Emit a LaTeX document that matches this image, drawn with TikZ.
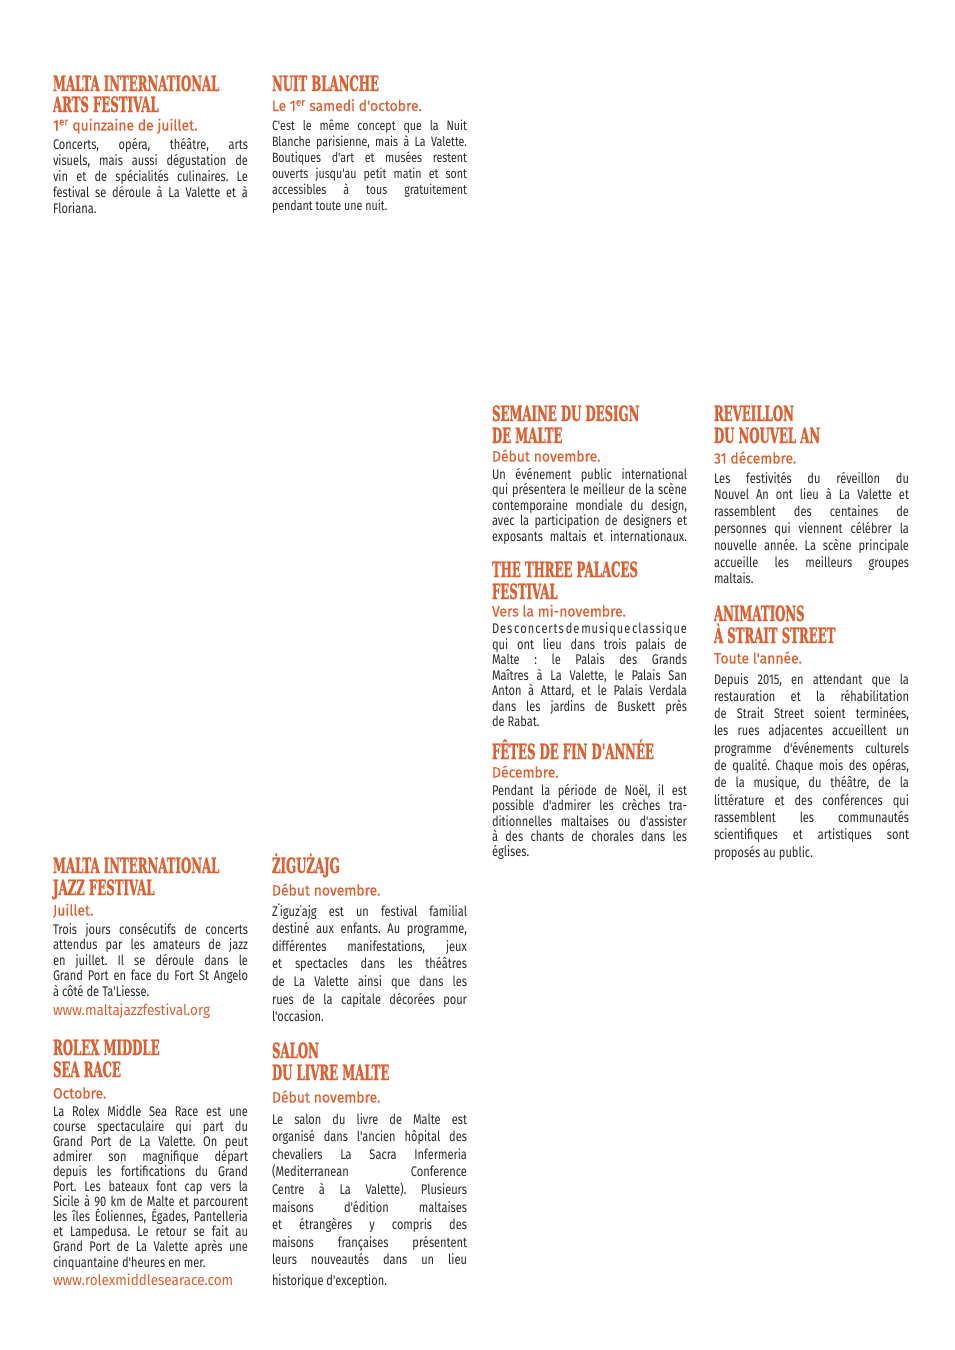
\documentclass[tikz,border=0pt]{standalone}
\usepackage{fontspec}
\newfontfamily\headf[FakeStretch=0.56,FakeBold=1]{DejaVu Serif}
\newfontfamily\bodyf[FakeStretch=0.79]{Fira Sans}
\newfontfamily\datef[FakeStretch=0.93,FakeBold=0.3]{Fira Sans}
\newfontfamily\urlf[FakeStretch=0.9]{Fira Sans}
\definecolor{evorange}{HTML}{DE5F30}
\definecolor{bodyc}{HTML}{2A2A2A}
\newcommand\xJ[1]{\hbox to 195pt{#1}}
\newcommand\xL[1]{\hbox{#1}}
\newcommand\xB[2]{\vtop{\frenchspacing\spaceskip=.22em plus 1em minus .05em\baselineskip=#1\lineskiplimit=-\maxdimen\lineskip=0pt #2}}
\newcommand\hB[2]{\vtop{\baselineskip=#1\lineskiplimit=-\maxdimen\lineskip=0pt #2}}
\tikzset{
  base/.style={anchor=base west, inner sep=0pt, outer sep=0pt},
  head/.style={base, text=evorange, font={\headf\bfseries\fontsize{21pt}{21pt}\selectfont}},
  datel/.style={base, text=evorange, font={\datef\fontsize{15pt}{15pt}\selectfont}},
  urll/.style={base, text=evorange, font={\urlf\fontsize{15pt}{15pt}\selectfont}},
  bodyt/.style={base, text=bodyc, font={\bodyf\fontsize{14pt}{14pt}\selectfont}},
  bodys/.style={base, text=bodyc, font={\bodyf\fontsize{13.5pt}{13.5pt}\selectfont}},
}
\begin{document}
\begin{tikzpicture}[x=1pt,y=-1pt]
\useasboundingbox[fill=white] (0,0) rectangle (954,1350);

% ---- Column 1 top: Malta International Arts Festival
\node[head] (hA) at (53,91) {\hB{21pt}{\xL{MALTA INTERNATIONAL}\xL{ARTS FESTIVAL}}};
\node[datel] (dA) at (53,130.5) {1\textsuperscript{er} quinzaine de juillet.};
\node[bodyt] (bA) at (53,149) {\xB{16pt}{%
\xJ{Concerts, opéra, théâtre, arts}%
\xJ{visuels, mais aussi dégustation de}%
\xJ{vin et de spécialités culinaires. Le}%
\xJ{festival se déroule à La Valette et à}%
\xL{Floriana.}}};

% ---- Column 2 top: Nuit Blanche
\node[head] (hB) at (272,91) {NUIT BLANCHE};
\node[datel] (dB) at (272,111) {Le 1\textsuperscript{er} samedi d'octobre.};
\node[bodys] (bB) at (272,130) {\xB{16pt}{%
\xJ{C'est le même concept que la Nuit}%
\xJ{Blanche parisienne, mais à La Valette.}%
\xJ{Boutiques d'art et musées restent}%
\xJ{ouverts jusqu'au petit matin et sont}%
\xJ{accessibles à tous gratuitement}%
\xL{pendant toute une nuit.}}};

% ---- Column 3: Semaine du design
\node[head] (hC) at (492,421) {\hB{22pt}{\xL{SEMAINE DU DESIGN}\xL{DE MALTE}}};
\node[datel] (dC) at (492,461.5) {Début novembre.};
\node[bodyt] (bC) at (492,479) {\xB{15.5pt}{%
\xJ{Un événement public international}%
\xJ{qui présentera le meilleur de la scène}%
\xJ{contemporaine mondiale du design,}%
\xJ{avec la participation de designers et}%
\xJ{exposants maltais et internationaux.}}};

% ---- The three palaces festival
\node[head] (hD) at (492,577) {\hB{22pt}{\xL{THE THREE PALACES}\xL{FESTIVAL}}};
\node[datel] (dD) at (492,616.5) {Vers la mi-novembre.};
\node[bodyt] (bD) at (492,633.5) {\xB{15.5pt}{%
\xJ{D\hfil e\hfil s\hfil\hfil c\hfil o\hfil n\hfil c\hfil e\hfil r\hfil t\hfil s\hfil\hfil d\hfil e\hfil\hfil m\hfil u\hfil s\hfil i\hfil q\hfil u\hfil e\hfil\hfil c\hfil l\hfil a\hfil s\hfil s\hfil i\hfil q\hfil u\hfil e}%
\xJ{qui ont lieu dans trois palais de}%
\xJ{Malte : le Palais des Grands}%
\xJ{Maîtres à La Valette, le Palais San}%
\xJ{Anton à Attard, et le Palais Verdala}%
\xJ{dans les jardins de Buskett près}%
\xL{de Rabat.}}};

% ---- Fêtes de fin d'année
\node[head] (hE) at (492,759) {FÊTES DE FIN D'ANNÉE};
\node[datel] (dE) at (492,777.5) {Décembre.};
\node[bodyt] (bE) at (492,795.5) {\xB{15.3pt}{%
\xJ{Pendant la période de Noël, il est}%
\xJ{possible d'admirer les crèches tra-}%
\xJ{ditionnelles maltaises ou d'assister}%
\xJ{à des chants de chorales dans les}%
\xL{églises.}}};

% ---- Column 4: Réveillon
\node[head] (hF) at (714,421) {\hB{22pt}{\xL{REVEILLON}\xL{DU NOUVEL AN}}};
\node[datel] (dF) at (714,463.5) {31 décembre.};
\node[bodyt] (bF) at (714,483) {\xB{16.8pt}{%
\xJ{Les festivités du réveillon du}%
\xJ{Nouvel An ont lieu à La Valette et}%
\xJ{rassemblent des centaines de}%
\xJ{personnes qui viennent célébrer la}%
\xJ{nouvelle année. La scène principale}%
\xJ{accueille les meilleurs groupes}%
\xL{maltais.}}};

% ---- Animations à Strait Street
\node[head] (hG) at (714,621) {\hB{22pt}{\xL{ANIMATIONS}\xL{À STRAIT STREET}}};
\node[datel] (dG) at (714,663.5) {Toute l'année.};
\node[bodyt] (bG) at (714,684) {\xB{17.3pt}{%
\xJ{Depuis 2015, en attendant que la}%
\xJ{restauration et la réhabilitation}%
\xJ{de Strait Street soient terminées,}%
\xJ{les rues adjacentes accueillent un}%
\xJ{programme d'événements culturels}%
\xJ{de qualité. Chaque mois des opéras,}%
\xJ{de la musique, du théâtre, de la}%
\xJ{littérature et des conférences qui}%
\xJ{rassemblent les communautés}%
\xJ{scientifiques et artistiques sont}%
\xL{proposés au public.}}};

% ---- Column 1 bottom: Jazz festival
\node[head] (hH) at (53,873) {\hB{22pt}{\xL{MALTA INTERNATIONAL}\xL{JAZZ FESTIVAL}}};
\node[datel] (dH) at (53,915.5) {Juillet.};
\node[bodyt] (bH) at (53,934) {\xB{15.5pt}{%
\xJ{Trois jours consécutifs de concerts}%
\xJ{attendus par les amateurs de jazz}%
\xJ{en juillet. Il se déroule dans le}%
\xJ{Grand Port en face du Fort St Angelo}%
\xL{à côté de Ta'Liesse.}}};
\node[urll] (uH) at (53,1015) {www.maltajazzfestival.org};

% ---- Rolex Middle Sea Race
\node[head] (hI) at (53,1055) {\hB{22pt}{\xL{ROLEX MIDDLE}\xL{SEA RACE}}};
\node[datel] (dI) at (53,1098.5) {Octobre.};
\node[bodyt] (bI) at (53,1116) {\xB{15.1pt}{%
\xJ{La Rolex Middle Sea Race est une}%
\xJ{course spectaculaire qui part du}%
\xJ{Grand Port de La Valette. On peut}%
\xJ{admirer son magnifique départ}%
\xJ{depuis les fortifications du Grand}%
\xJ{Port. Les bateaux font cap vers la}%
\xJ{Sicile à 90 km de Malte et parcourent}%
\xJ{les îles Éoliennes, Égades, Pantelleria}%
\xJ{et Lampedusa. Le retour se fait au}%
\xJ{Grand Port de La Valette après une}%
\xL{cinquantaine d'heures en mer.}}};
\node[urll] (uI) at (53,1285) {www.rolexmiddlesearace.com};

% ---- Column 2 bottom: Żigużajg
\node[head] (hJ) at (272,873) {ŻIGUŻAJG};
\node[datel] (dJ) at (272,895.5) {Début novembre.};
\node[bodyt] (bJ) at (272,916) {\xB{17.6pt}{%
\xJ{Z˙iguz˙ajg est un festival familial}%
\xJ{destiné aux enfants. Au programme,}%
\xJ{différentes manifestations, jeux}%
\xJ{et spectacles dans les théâtres}%
\xJ{de La Valette ainsi que dans les}%
\xJ{rues de la capitale décorées pour}%
\xL{l'occasion.}}};

% ---- Salon du livre Malte
\node[head] (hK) at (272,1058) {\hB{22pt}{\xL{SALON}\xL{DU LIVRE MALTE}}};
\node[datel] (dK) at (272,1102.5) {Début novembre.};
\node[bodyt] (bK) at (272,1124) {\xB{17.6pt}{%
\xJ{Le salon du livre de Malte est}%
\xJ{organisé dans l'ancien hôpital des}%
\xJ{chevaliers La Sacra Infermeria}%
\xJ{(Mediterranean Conference}%
\xJ{Centre à La Valette). Plusieurs}%
\xJ{maisons d'édition maltaises}%
\xJ{et étrangères y compris des}%
\xJ{maisons françaises présentent}%
\xJ{leurs nouveautés dans un lieu}}};
\node[bodyt] (bK2) at (272,1285) {historique d'exception.};

\end{tikzpicture}
\end{document}
